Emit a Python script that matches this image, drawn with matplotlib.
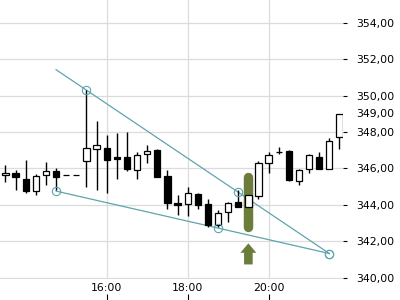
import matplotlib
matplotlib.use('Agg')
import matplotlib.pyplot as plt
import matplotlib.transforms as mtransforms
import pandas as pd

# 15 minute candles, 13:30 -> 21:45
times = pd.date_range('2024-01-01 13:30', periods=34, freq='15min')
opens = [345.65, 345.74, 345.41, 344.77, 345.62, 345.85, 345.63, 345.63, 346.38, 347.04,
         347.10, 346.60, 346.60, 345.91, 346.79, 347.01, 345.58, 344.07, 344.04, 344.59,
         344.04, 342.87, 343.60, 344.15, 343.89, 344.48, 346.27, 346.92, 346.97, 345.32,
         345.98, 346.64, 345.98, 347.74]
highs = [346.18, 345.92, 346.47, 345.71, 346.36, 346.00, 345.63, 345.63, 350.30, 348.62,
         347.83, 347.96, 348.01, 346.90, 347.26, 347.05, 345.91, 344.55, 344.96, 344.63,
         344.30, 343.71, 344.15, 344.81, 344.64, 346.42, 346.91, 347.19, 347.00, 345.98,
         346.79, 346.90, 347.65, 349.00]
lows = [345.25, 344.82, 344.67, 344.53, 345.10, 344.80, 345.63, 345.63, 344.99, 344.81,
        344.66, 345.41, 345.88, 345.40, 346.27, 345.52, 343.75, 343.45, 343.38, 343.78,
        342.80, 342.75, 343.05, 343.86, 343.67, 344.30, 345.73, 346.79, 345.29, 345.10,
        345.76, 345.98, 345.98, 347.04]
closes = [345.76, 345.52, 344.75, 345.58, 345.84, 345.54, 345.63, 345.63, 347.10, 347.26,
          346.46, 346.51, 345.95, 346.71, 346.93, 345.54, 344.11, 344.01, 344.63, 344.00,
          342.87, 343.56, 344.11, 343.86, 344.55, 346.31, 346.71, 346.89, 345.36, 345.91,
          346.71, 345.98, 347.52, 349.00]

# wedge trendlines (candle index, price)
upper_line = ([5, 32], [351.42, 341.32])
upper_marks = ([8, 23, 32], [350.30, 344.70, 341.32])
lower_line = ([5, 32], [344.75, 341.32])
lower_marks = ([5, 21, 32], [344.75, 342.72, 341.32])

signal_idx = 24
time_ticks = ['16:00', '18:00', '20:00']
price_ticks = [340, 342, 344, 346, 348, 350, 352, 354]

teal = '#5ea5ac'
olive = '#6b7c3b'

fig = plt.figure(figsize=(4, 3), dpi=100)
ax = fig.add_axes([0, 21 / 300, 343 / 400, 279 / 300])

x = list(range(len(times)))

# wicks and bodies
ax.vlines(x, lows, highs, color='black', linewidth=1.0, zorder=3)
bottoms = [min(o, c) for o, c in zip(opens, closes)]
heights = [max(abs(c - o), 0.001) for o, c in zip(opens, closes)]
colors = ['white' if c > o else 'black' for o, c in zip(opens, closes)]
ax.bar(x, heights, bottom=bottoms, width=0.62, color=colors, edgecolor='black',
       linewidth=0.9, zorder=4)

# trendlines
ax.plot(upper_line[0], upper_line[1], color=teal, lw=0.9, zorder=2)
ax.plot(lower_line[0], lower_line[1], color=teal, lw=0.9, zorder=2)
ax.plot(upper_marks[0], upper_marks[1], 'o', ms=6, mfc='none', mec=teal, mew=0.8, zorder=5)
ax.plot(lower_marks[0], lower_marks[1], 'o', ms=6, mfc='none', mec=teal, mew=0.8, zorder=5)

# highlighted signal candle
ax.plot([signal_idx, signal_idx], [lows[signal_idx] - 0.87, opens[signal_idx] + 1.65],
        color=olive, lw=6.8, solid_capstyle='round', zorder=3.5)
ax.annotate('', xy=(signal_idx, lows[signal_idx] - 1.79), xytext=(signal_idx, lows[signal_idx] - 2.95),
            arrowprops=dict(arrowstyle='simple,head_length=0.68,head_width=1.15,tail_width=0.62',
                            color=olive, lw=0, shrinkA=0, shrinkB=0, mutation_scale=10))

ax.set_xlim(-0.54, 33.35)
ax.set_ylim(339.92, 355.25)

# axes styling
for s in ax.spines.values():
    s.set_visible(False)
ax.grid(True, color='#dcdcdc', linewidth=0.9)
ax.set_axisbelow(True)

xt = [i for i, t in enumerate(times) if t.strftime('%H:%M') in time_ticks]
ax.set_xticks(xt)
ax.set_xticklabels([times[i].strftime('%H:%M') for i in xt])
ax.tick_params(axis='x', length=0, pad=3, labelsize=7.8)

sec = ax.secondary_xaxis(-21 / 279)
sec.set_xticks(xt)
sec.set_xticklabels([])
sec.tick_params(direction='in', length=4.3, width=0.8)
sec.spines['bottom'].set_visible(False)

ax.yaxis.tick_right()
ax.set_yticks(price_ticks)
ax.set_yticklabels([f'{v:.2f}'.replace('.', ',') for v in price_ticks])
ax.tick_params(axis='y', direction='out', length=3.2, width=0.8, pad=6, labelsize=7.8)

# last price label
trans = mtransforms.blended_transform_factory(ax.transAxes, ax.transData)
ax.text(356 / 343, closes[-1], f'{closes[-1]:.2f}'.replace('.', ','), transform=trans,
        ha='left', va='center', fontsize=7.8, clip_on=False)

fig.savefig('out.png', dpi=100)
